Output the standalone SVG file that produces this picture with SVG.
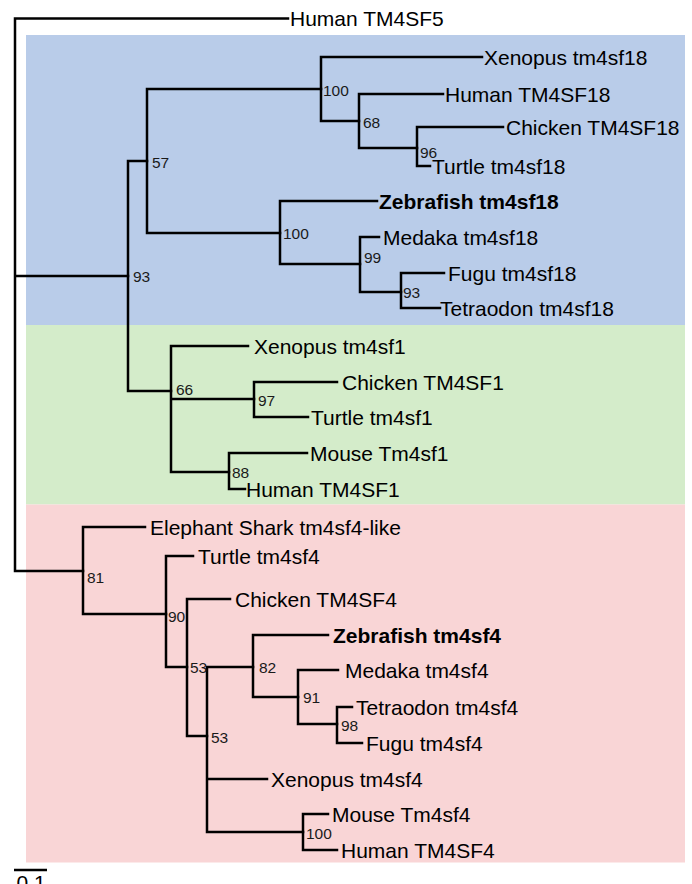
<svg xmlns="http://www.w3.org/2000/svg" width="692" height="884" viewBox="0 0 692 884">
<style>
.bg{fill:#fff}
.br{fill:none;stroke:#000;stroke-width:2.5;stroke-linecap:square}
.tip{font-family:"Liberation Sans",Arial,sans-serif;font-size:21px;fill:#000}
.bold{font-weight:bold}
.bs{font-family:"Liberation Sans",Arial,sans-serif;font-size:15.5px;fill:#1a1a1a}
</style>
<rect class="bg" x="0" y="0" width="692" height="884"/>
<g id="clades">
<rect id="clade-tm4sf18" x="26" y="35" width="659" height="290" fill="#b9cce9"/>
<rect id="clade-tm4sf1" x="26" y="325" width="659" height="179.5" fill="#d4ecca"/>
<rect id="clade-tm4sf4" x="26" y="504.5" width="659" height="358" fill="#f9d5d6"/>
</g>
<g id="connectors" class="br">
<path d="M15,18.5V571 M15,18.5H288 M15,276H128 M15,571H83"/>
<path d="M128,161V391 M128,161H147 M128,391H171"/>
<path d="M147,89V233 M147,89H321 M147,233H280"/>
<path d="M321,57V121 M321,57H482 M321,121H359"/>
<path d="M359,94V148 M359,94H443 M359,148H417"/>
<path d="M417,127V166 M417,127H503 M417,166H430"/>
<path d="M280,201V264 M280,201H377 M280,264H360"/>
<path d="M360,237V292 M360,237H379 M360,292H401"/>
<path d="M401,273V308 M401,273H444 M401,308H440"/>
<path d="M171,346V472 M171,346H248 M171,399H254 M171,472H229"/>
<path d="M254,382V417 M254,382H337 M254,417H308"/>
<path d="M229,453V489 M229,453H307 M229,489H245"/>
<path d="M83,527V614 M83,527H145 M83,614H166"/>
<path d="M166,556V667 M166,556H193 M166,667H187"/>
<path d="M187,599V736 M187,599H230 M187,736H207"/>
<path d="M207,667V832 M207,667H253 M207,779H267 M207,832H303"/>
<path d="M253,635V697 M253,635H328 M253,697H298"/>
<path d="M298,670V724 M298,670H338 M298,724H337"/>
<path d="M337,707V743 M337,707H352 M337,743H362"/>
<path d="M303,814V850 M303,814H328 M303,850H337"/>
</g>
<g id="tips" class="tip">
<g id="human-tm4sf5"><text x="290" y="26">Human TM4SF5</text></g>
<g id="xenopus-tm4sf18"><text x="484" y="64.5">Xenopus tm4sf18</text></g>
<g id="human-tm4sf18"><text x="445" y="101.5">Human TM4SF18</text></g>
<g id="chicken-tm4sf18"><text x="506" y="134.5">Chicken TM4SF18</text></g>
<g id="turtle-tm4sf18"><text x="432" y="174">Turtle tm4sf18</text></g>
<g id="zebrafish-tm4sf18"><text class="bold" x="379" y="208.5">Zebrafish tm4sf18</text></g>
<g id="medaka-tm4sf18"><text x="383" y="244.5">Medaka tm4sf18</text></g>
<g id="fugu-tm4sf18"><text x="448" y="280.5">Fugu tm4sf18</text></g>
<g id="tetraodon-tm4sf18"><text x="440" y="315.5">Tetraodon tm4sf18</text></g>
<g id="xenopus-tm4sf1"><text x="254" y="353.5">Xenopus tm4sf1</text></g>
<g id="chicken-tm4sf1"><text x="342" y="389.5">Chicken TM4SF1</text></g>
<g id="turtle-tm4sf1"><text x="311" y="424.5">Turtle tm4sf1</text></g>
<g id="mouse-tm4sf1"><text x="310" y="460.5">Mouse Tm4sf1</text></g>
<g id="human-tm4sf1"><text x="246" y="496.5">Human TM4SF1</text></g>
<g id="elephant-shark"><text x="150" y="534.5">Elephant Shark tm4sf4-like</text></g>
<g id="turtle-tm4sf4"><text x="198" y="563.5">Turtle tm4sf4</text></g>
<g id="chicken-tm4sf4"><text x="235" y="606.5">Chicken TM4SF4</text></g>
<g id="zebrafish-tm4sf4"><text class="bold" x="333" y="642.5">Zebrafish tm4sf4</text></g>
<g id="medaka-tm4sf4"><text x="345" y="677.5">Medaka tm4sf4</text></g>
<g id="tetraodon-tm4sf4"><text x="356" y="714.5">Tetraodon tm4sf4</text></g>
<g id="fugu-tm4sf4"><text x="366" y="750.5">Fugu tm4sf4</text></g>
<g id="xenopus-tm4sf4"><text x="271" y="786.5">Xenopus tm4sf4</text></g>
<g id="mouse-tm4sf4"><text x="332" y="821.5">Mouse Tm4sf4</text></g>
<g id="human-tm4sf4"><text x="341" y="857.5">Human TM4SF4</text></g>
</g>
<g id="bootstrap" class="bs">
<g id="n93"><text x="133" y="282">93</text></g>
<g id="n57"><text x="152" y="168">57</text></g>
<g id="n100a"><text x="323" y="96">100</text></g>
<g id="n68"><text x="363" y="128">68</text></g>
<g id="n96"><text x="420" y="158">96</text></g>
<g id="n100b"><text x="283" y="239">100</text></g>
<g id="n99"><text x="364" y="263">99</text></g>
<g id="n93b"><text x="403" y="298">93</text></g>
<g id="n66"><text x="176" y="395">66</text></g>
<g id="n97"><text x="258" y="406">97</text></g>
<g id="n88"><text x="232" y="477.5">88</text></g>
<g id="n81"><text x="87" y="583">81</text></g>
<g id="n90"><text x="168" y="622">90</text></g>
<g id="n53a"><text x="190" y="673">53</text></g>
<g id="n82"><text x="259" y="673">82</text></g>
<g id="n91"><text x="303" y="703">91</text></g>
<g id="n98"><text x="341" y="731">98</text></g>
<g id="n53b"><text x="211" y="742.5">53</text></g>
<g id="n100c"><text x="306" y="839">100</text></g>
</g>
<g id="scale-bar">
<path d="M14,870H47" stroke="#000" stroke-width="2.5" fill="none"/>
<text class="tip" x="31" y="890" text-anchor="middle">0.1</text>
</g>
</svg>
